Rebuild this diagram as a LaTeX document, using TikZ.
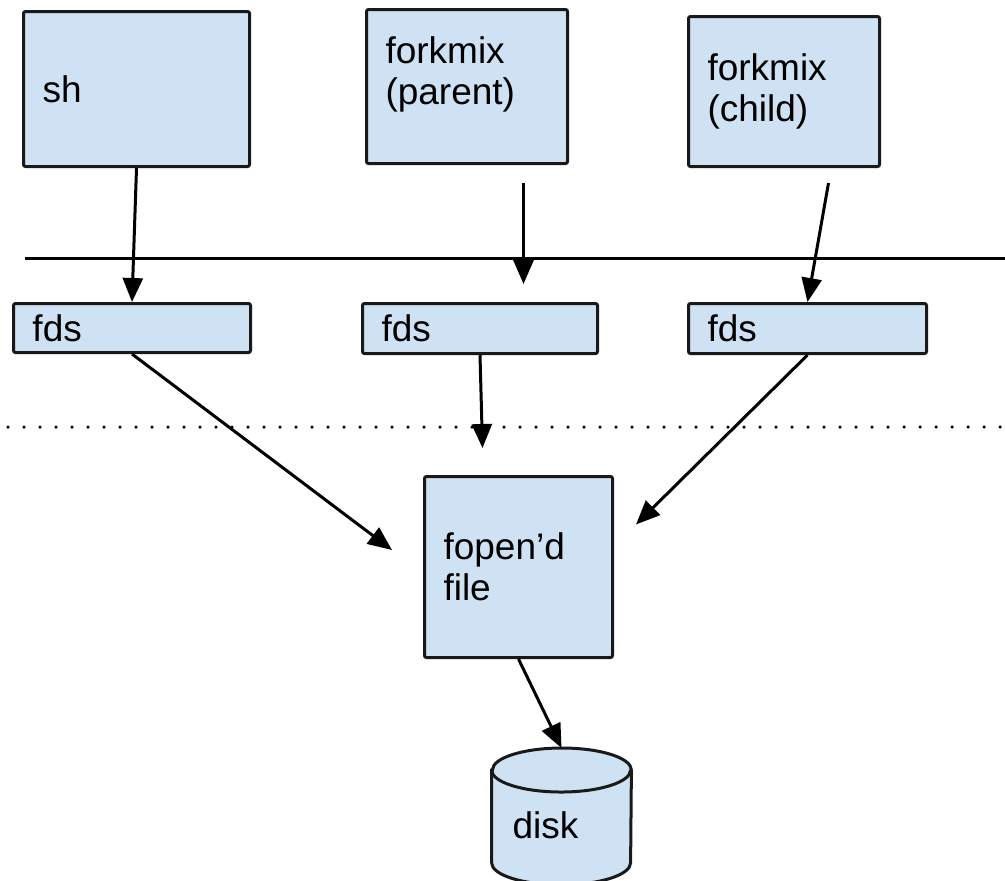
\documentclass[tikz,border=0pt]{standalone}
\usepackage{fontspec}
\setmainfont{Liberation Sans}
\usetikzlibrary{arrows.meta}
\definecolor{boxblue}{HTML}{CFE2F3}
\begin{document}
\begin{tikzpicture}[
	x=0.5pt, y=-0.5pt,
	box/.style={rectangle, rounded corners=1pt, draw=black!90, line width=1.5pt, fill=boxblue, align=left, anchor=north west, inner xsep=9.5pt, inner ysep=0pt, font=\fontsize{18.5}{20.5}\selectfont},
	diskline/.style={draw=black!90, line width=1.5pt},
	arr/.style={line width=1.5pt, -{Triangle[length=12pt,width=10pt]}}
]
\useasboundingbox (0,0) rectangle (1005,880);
% processes
\node[box, text width=94pt, minimum height=77.5pt] (sh) at (22,10) {sh};
\node[box, text width=81.5pt, minimum height=77pt] (parent) at (365,8) {forkmix\\(parent)\\[-5pt]\mbox{}};
\node[box, text width=76.5pt, minimum height=75pt] (child) at (687,15) {forkmix\\(child)};
% separators
\draw[line width=1.5pt] (25,258) -- (1005,258);
\draw[line width=1.75pt, line cap=round, dash pattern=on 0pt off 8pt] (8,427) -- (1005,427);
% fd tables
\node[box, text width=99.5pt, minimum height=24.5pt] (fds1) at (12,302) {fds};
\node[box, text width=98.5pt, minimum height=25pt] (fds2) at (361,302) {fds};
\node[box, text width=100pt, minimum height=25pt] (fds3) at (687,302) {fds};
% file and disk
\node[box, text width=75pt, minimum height=90.5pt] (file) at (423,475) {fopen’d\\file};
\node[minimum width=69.5pt, minimum height=68pt, inner sep=0pt, anchor=north] (disk) at (561.5,748) {};
\draw[diskline, fill=boxblue] ([yshift=-11pt]disk.north west) -- ([yshift=11pt]disk.south west)
	arc[start angle=180, end angle=360, x radius=34.75pt, y radius=11pt] -- ([yshift=-11pt]disk.north east)
	arc[start angle=0, end angle=180, x radius=34.75pt, y radius=11pt] -- cycle;
\draw[diskline] ([yshift=-11pt]disk.north west) arc[start angle=180, end angle=360, x radius=34.75pt, y radius=11pt];
\node[font=\fontsize{18.5}{20.5}\selectfont, inner sep=0pt] (disklabel) at ([xshift=-8pt, yshift=-4.5pt]disk.center) {disk};
% arrows
\draw[arr] (sh.south) -- (fds1.north);
\draw[arr] ([xshift=28.25pt, yshift=-9pt]parent.south) -- ([xshift=21.75pt, yshift=9pt]fds2.north);
\draw[arr] ([xshift=22.25pt, yshift=-7.5pt]child.south) -- (fds3.north);
\draw[arr] (fds1.south) -- ([xshift=-15.5pt, yshift=8.5pt]file.west);
\draw[arr] (fds2.south) -- ([xshift=-18pt, yshift=13.5pt]file.north);
\draw[arr] (fds3.south) -- ([xshift=11pt, yshift=21.25pt]file.east);
\draw[arr] (file.south) -- (disk.north);
\end{tikzpicture}
\end{document}
